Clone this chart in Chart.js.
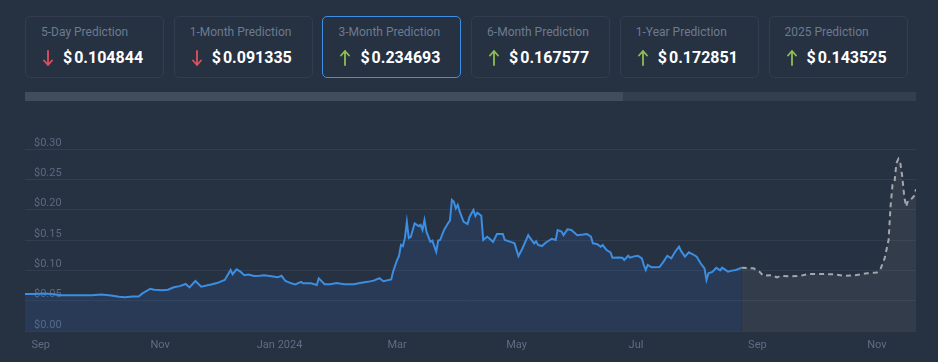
<!DOCTYPE html>
<html>
<head>
<meta charset="utf-8">
<script src="https://cdn.jsdelivr.net/npm/chart.js@4.4.1/dist/chart.umd.min.js"></script>
<style>
  html, body { margin: 0; padding: 0; width: 938px; height: 362px; overflow: hidden; background: #263142; font-family: Roboto, "Open Sans", sans-serif; }
  .card { position: absolute; top: 16px; width: 137px; height: 60px; border: 1px solid #323e50; border-radius: 5px; box-sizing: content-box; }
  .card.sel { border-color: #3f8fe2; }
  .card .t { position: absolute; left: 15px; top: 8px; font-size: 12px; color: #6c7b90; white-space: nowrap; }
  .card .v { position: absolute; left: 37px; top: 31px; font-size: 16px; font-weight: 700; color: #ffffff; white-space: nowrap; }
  .card .v span { margin-left: 2px; }
  .card svg { position: absolute; left: 17px; top: 33px; }
  #track { position: absolute; left: 25px; top: 92px; width: 891px; height: 9px; background: #343e4e; }
  #thumb { position: absolute; left: 25px; top: 92px; width: 598px; height: 9px; background: #434c5c; }
  #wrap { position: absolute; left: 0; top: 105px; width: 938px; height: 257px; }
</style>
</head>
<body>
<div id="cards"></div>
<div id="track"></div><div id="thumb"></div>
<div id="wrap"><canvas id="c" width="938" height="257"></canvas></div>
<script>
// ---- data ----
const startDate = "2023-08-24";
const cardTitles = ["5-Day Prediction", "1-Month Prediction", "3-Month Prediction", "6-Month Prediction", "1-Year Prediction", "2025 Prediction"];
const cardValues = [0.104844, 0.091335, 0.234693, 0.167577, 0.172851, 0.143525];
const cardUp = [false, false, true, true, true, true];
const selectedCard = 2;

const tickDates = ["2023-09-01", "2023-11-01", "2024-01-01", "2024-03-01", "2024-05-01", "2024-07-01", "2024-09-01", "2024-11-01"];
const tickLabels = ["Sep", "Nov", "Jan 2024", "Mar", "May", "Jul", "Sep", "Nov"];
const yTicks = [0, 0.05, 0.10, 0.15, 0.20, 0.25, 0.30];
const endDay = 455;

// days since startDate
const historyDays = [0,5,10,15,18,26,34,39,44,48,51,55,58,60,64,66,70,73,76,79,82,84,87,90,95,98,102,
  105,106,108,110,112,114,117,120,122,125,129,131,133,136,138,141,142,146,149,150,153,156,159,163,168,171,175,178,181,183,187,
  188,190,191,192,193,194,195,196,197,198,199,201,202,203,204,205,207,208,210,211,212,214,216,217,218,219,220,221,222,224,226,227,229,230,231,233,234,236,237,239,241,244,245,248,250,252,254,257,258,260,261,262,264,266,268,269,271,272,274,275,277,279,
  282,285,287,289,290,292,294,295,297,299,300,303,305,306,308,309,311,313,315,316,317,318,320,324,326,328,330,332,334,335,337,339,341,343,345,347,348,349,351,353,355,356,359,361,363,366];
const historyValues = [0.061,0.061,0.062,0.0605,0.059,0.059,0.059,0.060,0.0585,0.0565,0.0555,0.057,0.057,0.062,0.0697,0.068,0.067,0.068,0.072,0.074,0.0775,0.072,0.0824,0.073,0.0765,0.079,0.084,
  0.1005,0.0935,0.1017,0.0978,0.092,0.093,0.0906,0.091,0.092,0.0905,0.0885,0.091,0.0824,0.0786,0.0769,0.081,0.0786,0.0786,0.0758,0.0868,0.077,0.077,0.079,0.077,0.077,0.079,0.081,0.083,0.087,0.082,0.085,
  0.098,0.117,0.1236,0.142,0.140,0.153,0.180,0.153,0.155,0.1665,0.1775,0.173,0.175,0.1665,0.183,0.1637,0.147,0.149,0.1307,0.149,0.150,0.1665,0.1775,0.182,0.216,0.213,0.202,0.208,0.1967,0.180,0.1764,0.188,0.1995,0.1896,0.195,0.190,0.150,0.1555,0.153,0.147,0.160,0.160,0.150,0.147,0.1445,0.1236,0.136,0.158,0.153,0.1445,0.148,0.1418,0.140,0.146,0.150,0.152,0.150,0.1665,0.164,0.158,0.1676,0.1665,
  0.158,0.159,0.160,0.1555,0.1445,0.1435,0.139,0.1417,0.1335,0.1297,0.1208,0.121,0.1208,0.117,0.124,0.1208,0.123,0.124,0.1197,0.1088,0.1005,0.1088,0.105,0.1055,0.114,0.124,0.1197,0.1307,0.139,0.132,0.1225,0.1297,0.1265,0.1225,0.1116,0.1033,0.084,0.095,0.0975,0.1043,0.100,0.1043,0.0978,0.0995,0.1005,0.1043];

const forecastDays = [366,372,375,377,381,384,386,390,396,400,407,413,418,424,430,435,437,439,441,442,443,444,445,446,447,448,449,450,451,453,454,455];
const forecastValues = [0.1043,0.1033,0.098,0.091,0.092,0.0885,0.091,0.090,0.091,0.094,0.094,0.0935,0.091,0.092,0.095,0.0965,0.1033,0.120,0.150,0.205,0.2407,0.2445,0.2764,0.2835,0.2764,0.2543,0.2214,0.205,0.216,0.2187,0.2225,0.2335];

// ---- cards ----
const cardsEl = document.getElementById('cards');
cardTitles.forEach((t, i) => {
  const d = document.createElement('div');
  d.className = 'card' + (i === selectedCard ? ' sel' : '');
  d.style.left = (25 + i * 148.7) + 'px';
  const col = cardUp[i] ? '#8fbe52' : '#e0525f';
  const path = cardUp[i]
    ? '<path d="M5 1 L5 15 M1 5.5 L5 1 L9 5.5" stroke="' + col + '" stroke-width="1.8" fill="none" stroke-linecap="round" stroke-linejoin="round"/>'
    : '<path d="M5 1 L5 15 M1 10.5 L5 15 L9 10.5" stroke="' + col + '" stroke-width="1.8" fill="none" stroke-linecap="round" stroke-linejoin="round"/>';
  d.innerHTML = '<div class="t">' + t + '</div><svg width="10" height="16" viewBox="0 0 10 16">' + path + '</svg><div class="v">$<span>' + cardValues[i].toFixed(6) + '</span></div>';
  cardsEl.appendChild(d);
});

// ---- chart ----
const dayMs = 86400000;
const toDay = s => Math.round((Date.parse(s) - Date.parse(startDate)) / dayMs);
const tickDays = tickDates.map(toDay);
const hist = historyDays.map((d, i) => ({ x: d, y: historyValues[i] }));
const fc = forecastDays.map((d, i) => ({ x: d, y: forecastValues[i] }));

new Chart(document.getElementById('c'), {
  type: 'line',
  data: {
    datasets: [
      { data: hist, borderColor: '#3c8ee2', borderWidth: 2, pointRadius: 0, fill: 'origin', backgroundColor: 'rgba(51,116,193,0.15)', tension: 0 },
      { data: fc, borderColor: '#a3a7ad', borderWidth: 2, borderDash: [5, 4], pointRadius: 0, fill: 'origin', backgroundColor: 'rgba(158,159,156,0.1)', tension: 0 }
    ]
  },
  options: {
    responsive: false,
    animation: false,
    layout: { padding: { left: 25, right: 22, top: 44, bottom: 7 } },
    plugins: { legend: { display: false }, tooltip: { enabled: false } },
    scales: {
      x: {
        type: 'linear', min: 0, max: endDay,
        grid: { display: false, drawTicks: false },
        border: { display: false },
        afterBuildTicks: ax => { ax.ticks = tickDays.map(v => ({ value: v })); },
        afterFit: ax => { ax.height = 24; ax.paddingLeft = 0; ax.paddingRight = 0; },
        ticks: {
          autoSkip: false, maxRotation: 0, padding: 8,
          color: '#5f6e84', font: { family: 'Roboto', size: 11 },
          callback: v => { const k = tickDays.indexOf(v); return k >= 0 ? tickLabels[k] : ''; }
        }
      },
      y: {
        min: 0, max: 0.30,
        afterBuildTicks: ax => { ax.ticks = yTicks.map(v => ({ value: v })); },
        afterFit: ax => { ax.width = 0; },
        grid: { color: '#323e4f', drawTicks: false, lineWidth: 1 },
        border: { display: false },
        ticks: {
          mirror: true, padding: 9, labelOffset: -6,
          color: '#5b6a80', font: { family: 'Roboto', size: 11 },
          callback: v => '$' + v.toFixed(2)
        }
      }
    }
  }
});
</script>
</body>
</html>
